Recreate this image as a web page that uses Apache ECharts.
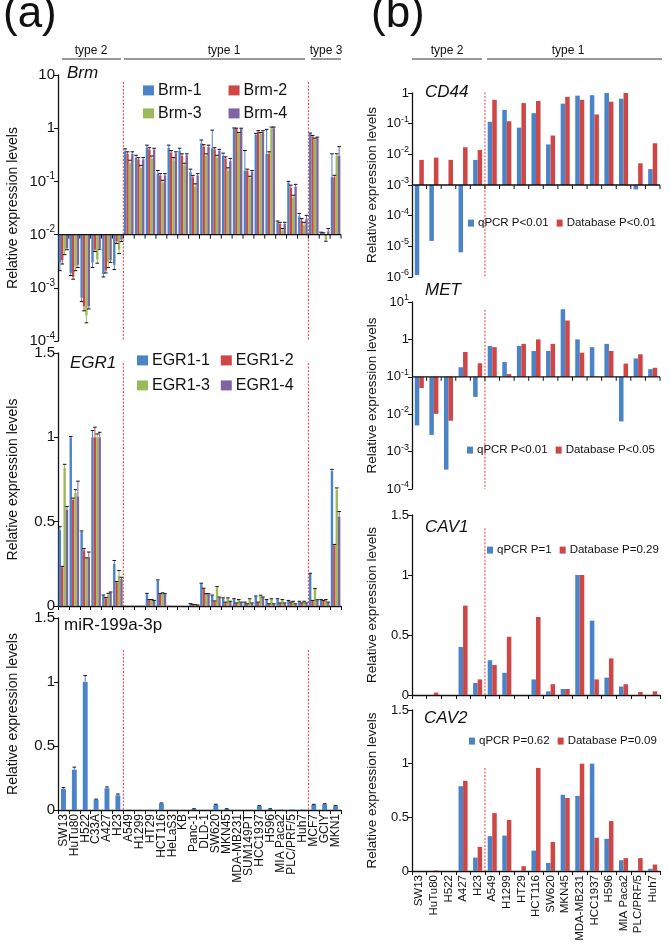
<!DOCTYPE html>
<html><head><meta charset="utf-8">
<script src="https://cdn.jsdelivr.net/npm/echarts@6/dist/echarts.min.js"></script>
<style>html,body{margin:0;padding:0;background:#fff}#c{width:670px;height:947px}</style>
</head><body><div id="c"></div>
<script>
// ---------------- DATA ----------------
const catsA = ['SW13','HuTu80','H522','C33A','A427','H23','A549','H1299','HT29','HCT116','HeLaS3','KB','Panc-1','DLD-1','SW620','MKN45','MDA-MB231','SUM149PT','HCC1937','H596','MIA Paca2','PLC/PRF/5','Huh7','MCF7','GCIY','MKN1'];
const catsB = ['SW13','HuTu80','H522','A427','H23','A549','H1299','HT29','HCT116','SW620','MKN45','MDA-MB231','HCC1937','H596','MIA Paca2','PLC/PRF/5','Huh7'];

const brm1 = [3.0e-3,1.9e-3,6.5e-4,3.0e-3,1.8e-3,2.7e-3, 0.37,0.28,0.43,0.14,0.43,0.38,0.15,0.52,0.42,0.30,0.98,0.16,0.75,0.33,0.017,0.095,0.022, 0.78,0.0108,0.12];
const brm2 = [3.3e-3,1.6e-3,4.5e-4,5.2e-3,2.1e-3,7.4e-3, 0.33,0.26,0.40,0.13,0.35,0.30,0.12,0.45,0.40,0.27,0.98,0.16,0.85,0.33,0.016,0.075,0.018, 0.70,0.0105,0.12];
const brm3 = [5.0e-3,2.5e-3,3.0e-4,3.4e-3,3.0e-3,5.2e-3, 0.22,0.18,0.27,0.095,0.25,0.20,0.08,0.30,0.28,0.16,0.80,0.115,0.78,1.0,0.012,0.05,0.015, 0.62,0.008,0.30];
const brm4 = [5.5e-3,2.7e-3,4.5e-4,5.6e-3,3.3e-3,8.0e-3, 0.33,0.26,0.40,0.13,0.34,0.31,0.13,0.45,0.38,0.24,0.98,0.15,0.85,1.0,0.016,0.08,0.02, 0.65,0.0115,0.30];
const brmErr1 = [0.9e-3,0.2e-3,1.0e-4,0.6e-3,0.2e-3,0.5e-3, 0.04,0.03,0.05,0.02,0.05,0.04,0.02,0.08,0.50,0.04,0.03,0.22,0.05,0.62,0.001,0.005,0.003, 0.03,0.0003,0.21];
const brmErr2 = [0.5e-3,0.15e-3,0.8e-4,0.4e-3,0.2e-3,0.6e-3, 0.03,0.02,0.03,0.01,0.03,0.03,0.01,0.04,0.03,0.02,0.02,0.01,0.05,0.03,0.001,0.01,0.002, 0.03,0.0003,0.01];
const brmErr3 = [0.8e-3,0.4e-3,0.8e-4,0.5e-3,0.6e-3,0.8e-3, 0.03,0.02,0.03,0.01,0.03,0.02,0.01,0.03,0.03,0.02,0.03,0.01,0.05,0.05,0.001,0.005,0.002, 0.03,0.0005,0.03];
const brmErr4 = [0.3e-3,0.3e-3,0.5e-4,0.3e-3,0.3e-3,0.6e-3, 0.03,0.02,0.02,0.01,0.02,0.02,0.01,0.03,0.02,0.03,0.02,0.01,0.05,0.05,0.001,0.008,0.003, 0.03,0.0015,0.15];

const egr1 = [0.45,1.0,0.44,1.0,0.06,0.25, 0.003,0.003,0.07,0.15,0.002,0.001,0.012,0.13,0.06,0.045,0.04,0.02,0.055,0.035,0.04,0.03,0.025, 0.19,0.035,0.80];
const egr2 = [0.23,0.63,0.33,1.0,0.045,0.14, 0.002,0.002,0.035,0.07,0.001,0.001,0.008,0.10,0.025,0.02,0.015,0.01,0.02,0.01,0.015,0.02,0.015, 0.03,0.03,0.36];
const egr3 = [0.82,0.67,0.28,1.0,0.065,0.18, 0.002,0.003,0.035,0.075,0.001,0.001,0.006,0.07,0.11,0.045,0.035,0.04,0.06,0.04,0.035,0.025,0.025, 0.10,0.035,0.69];
const egr4 = [0.57,0.65,0.29,1.0,0.08,0.16, 0.002,0.002,0.03,0.07,0.001,0.001,0.004,0.07,0.05,0.025,0.02,0.015,0.05,0.01,0.015,0.01,0.015, 0.035,0.02,0.53];
const egrErr1 = [0.02,0.005,0.005,0.04,0.005,0.02, 0,0,0.005,0.005,0,0,0.002,0.005,0.005,0.003,0.003,0.003,0.004,0.003,0.003,0.003,0.003, 0.004,0.003,0.01];
const egrErr2 = [0.005,0.01,0.01,0.06,0.005,0.005, 0,0,0.003,0.003,0,0,0.002,0.005,0.005,0.003,0.003,0.003,0.003,0.003,0.003,0.003,0.003, 0.003,0.003,0.005];
const egrErr3 = [0.02,0.02,0.005,0.02,0.01,0.03, 0,0,0.003,0.003,0,0,0.002,0.003,0.005,0.003,0.003,0.003,0.004,0.003,0.003,0.003,0.003, 0.003,0.003,0.01];
const egrErr4 = [0.02,0.09,0.03,0.03,0.003,0.01, 0,0,0.003,0.003,0,0,0.002,0.003,0.003,0.003,0.003,0.003,0.003,0.003,0.003,0.003,0.003, 0.002,0.003,0.03];

const mir = [0.165,0.315,1.0,0.08,0.17,0.115, 0.002,0.001,0.001,0.05,0.001,0.001,0.008,0.001,0.04,0.008,0.001,0.001,0.03,0.008,0.004,0.004,0.003, 0.04,0.045,0.03];
const mirErr = [0.01,0.02,0.05,0.005,0.01,0.01, 0,0,0,0.005,0,0,0.002,0,0.005,0.002,0,0,0.004,0.002,0,0,0, 0.004,0.004,0.004];

const cd44Q = [1.15e-6,1.5e-5,null,6.4e-6,6.6e-3,0.115,0.28,0.074,0.22,0.021,0.45,0.82,0.85,1.0,0.65,7.2e-4,3.3e-3];
const cd44D = [6.6e-3,7.8e-3,6.6e-3,0.017,0.0138,0.6,0.12,0.47,0.55,0.041,0.75,0.6,0.2,0.52,1.0,5.1e-3,0.023];
const metQ = [5e-3,2.8e-3,3.3e-4,0.18,0.029,0.67,0.25,0.67,0.49,0.49,6.4,1.0,0.62,0.76,6.4e-3,0.31,0.16];
const metD = [0.05,0.0102,6.7e-3,0.46,0.23,0.62,0.118,0.76,1.0,0.76,3.2,0.44,0.098,0.49,0.225,0.4,0.174];
const cav1Q = [0,0,0,0.40,0.10,0.29,0.185,0,0.13,0.03,0.05,1.0,0.62,0.145,0.07,0,0];
const cav1D = [0,0.02,0,0.745,0.13,0.25,0.485,0,0.65,0.09,0.05,1.0,0.13,0.305,0.09,0.025,0.03];
const cav2Q = [0,0,0,0.79,0.125,0.325,0.33,0,0.19,0.075,0.71,0.70,1.0,0.30,0.10,0,0.02];
const cav2D = [0,0.005,0,0.84,0.225,0.54,0.475,0.045,0.96,0.27,0.68,1.0,0.31,0.465,0.12,0.12,0.06];

const namesBrm = ['Brm-1','Brm-2','Brm-3','Brm-4'];
const namesEgr = ['EGR1-1','EGR1-2','EGR1-3','EGR1-4'];
const legCD44 = ['qPCR P<0.01','Database P<0.01'];
const legMET = ['qPCR P<0.01','Database P<0.05'];
const legCAV1 = ['qPCR P=1','Database P=0.29'];
const legCAV2 = ['qPCR P=0.62','Database P=0.09'];
const linTicks = [0, 0.5, 1, 1.5];

// ---------------- STYLE / LAYOUT ----------------
const FONT = '"Liberation Sans", Arial, sans-serif';
const COL = ['#4a83c6', '#d04644', '#9bbb59', '#8064a2'];
const INK = '#111';
const chart = echarts.init(document.getElementById('c'), null, {renderer: 'canvas'});

const grids = [
  {left: 58, top: 75, width: 283, height: 266},   // Brm
  {left: 58, top: 353, width: 283, height: 253},  // EGR1
  {left: 58, top: 618, width: 283, height: 192},  // miR
  {left: 412, top: 93, width: 248, height: 184},  // CD44
  {left: 412, top: 302, width: 248, height: 187}, // MET
  {left: 412, top: 515, width: 248, height: 180}, // CAV1
  {left: 412, top: 710, width: 248, height: 161}  // CAV2
];

function bandInfo(api, base) {
  const p0 = api.coord([0, base]), p1 = api.coord([1, base]);
  return p1[0] - p0[0];
}
function barSeries(name, gi, arr, base, k, n, fill, color) {
  return {
    type: 'custom', name: name, xAxisIndex: gi, yAxisIndex: gi, z: 2,
    itemStyle: {color: color},
    data: arr.map((v, i) => [i, v]),
    renderItem: function (params, api) {
      const i = api.value(0), v = api.value(1);
      if (v === null || isNaN(v) || v === 0) return;
      const cw = bandInfo(api, base);
      const pb = api.coord([i, base]), pv = api.coord([i, v]);
      const gw = cw * fill, bw = gw / n;
      const x = pb[0] - gw / 2 + k * bw;
      return {type: 'rect', shape: {x: x, y: Math.min(pb[1], pv[1]), width: bw, height: Math.abs(pv[1] - pb[1])},
        style: {fill: color}};
    }
  };
}
function errSeries(gi, arr, err, base, k, n, fill, color) {
  return {
    type: 'custom', name: 'err' + gi + '-' + k, xAxisIndex: gi, yAxisIndex: gi, z: 3, silent: true,
    data: arr.map((v, i) => [i, v, err[i]]),
    renderItem: function (params, api) {
      const i = api.value(0), v = api.value(1), e = api.value(2);
      if (!(e > 0) || isNaN(v)) return;
      const end = v >= base ? v + e : v - e;
      const cw = bandInfo(api, base);
      const pb = api.coord([i, base]);
      const gw = cw * fill, bw = gw / n;
      const xc = pb[0] - gw / 2 + k * bw + bw / 2;
      const pv = api.coord([i, v]), pe = api.coord([i, end]);
      return {type: 'group', children: [
        {type: 'line', shape: {x1: xc, y1: pv[1], x2: xc, y2: pe[1]}, style: {stroke: color, lineWidth: 1}},
        {type: 'line', shape: {x1: xc - 1.8, y1: pe[1], x2: xc + 1.8, y2: pe[1]}, style: {stroke: INK, lineWidth: 1}}
      ]};
    }
  };
}
function baselineSeries(gi, n, base) {
  return {
    type: 'custom', name: 'base' + gi, xAxisIndex: gi, yAxisIndex: gi, z: 5, silent: true,
    data: [[0, base]],
    renderItem: function (params, api) {
      const cw = bandInfo(api, base);
      const p0 = api.coord([0, base]);
      const left = p0[0] - cw / 2, y = p0[1];
      const ch = [{type: 'line', shape: {x1: left, y1: y, x2: left + n * cw, y2: y}, style: {stroke: INK, lineWidth: 1.3}}];
      for (let k = 1; k <= n; k++) {
        ch.push({type: 'line', shape: {x1: left + k * cw, y1: y, x2: left + k * cw, y2: y + 4}, style: {stroke: INK, lineWidth: 1}});
      }
      return {type: 'group', children: ch};
    }
  };
}
function dividerSeries(gi, bounds, topVal, botVal) {
  return {
    type: 'custom', name: 'div' + gi, xAxisIndex: gi, yAxisIndex: gi, z: 4, silent: true,
    data: bounds.map(b => [b, botVal]),
    renderItem: function (params, api) {
      const b = api.value(0);
      const cw = bandInfo(api, botVal);
      const pb = api.coord([b, botVal]), pt = api.coord([b, topVal]);
      const x = pb[0] - cw / 2;
      return {type: 'line', shape: {x1: x, y1: pt[1], x2: x, y2: pb[1]},
        style: {stroke: '#e23a40', lineWidth: 1, lineDash: [2, 1.5]}};
    }
  };
}

function logFmt(supOne) {
  return function (v) {
    const e = Math.round(Math.log10(v));
    if (e === 0) return '1';
    if (e === 1 && !supOne) return '10';
    return '10{s|' + e + '}';
  };
}
function yAxisLog(gi, min, max, supOne, fs, gap, nameFs) {
  return {
    type: 'log', gridIndex: gi, logBase: 10, min: min, max: max, interval: 1,
    axisLine: {show: true, lineStyle: {color: INK, width: 1.3}},
    axisTick: {show: true, length: 4, lineStyle: {color: INK}},
    minorTick: {show: false}, splitLine: {show: false},
    axisLabel: {formatter: logFmt(supOne), fontSize: fs, color: INK, fontFamily: FONT, margin: 3, lineHeight: fs + 5,
      rich: {s: {fontSize: Math.round(fs * 0.68), lineHeight: Math.round(fs * 0.68), verticalAlign: 'top', color: INK, fontFamily: FONT}}},
    name: 'Relative expression levels', nameLocation: 'middle', nameGap: gap,
    nameTextStyle: {fontSize: nameFs, color: INK, fontFamily: FONT}
  };
}
function yAxisLin(gi, fs, gap, nameFs) {
  return {
    type: 'value', gridIndex: gi, min: linTicks[0], max: linTicks[linTicks.length - 1], interval: 0.5,
    axisLine: {show: true, lineStyle: {color: INK, width: 1.3}},
    axisTick: {show: true, length: 4, lineStyle: {color: INK}},
    splitLine: {show: false},
    axisLabel: {fontSize: fs, color: INK, fontFamily: FONT, margin: 3},
    name: 'Relative expression levels', nameLocation: 'middle', nameGap: gap,
    nameTextStyle: {fontSize: nameFs, color: INK, fontFamily: FONT}
  };
}
function xAxisCat(gi, cats, mode, fs) {
  const a = {type: 'category', gridIndex: gi, data: cats,
    axisLine: {show: mode !== 'none', lineStyle: {color: INK, width: 1.3}},
    axisTick: {show: mode !== 'none', length: 4, lineStyle: {color: INK}},
    axisLabel: {show: mode === 'labels', interval: 0, rotate: 90, fontSize: fs, color: INK, fontFamily: FONT, margin: 4}};
  return a;
}

const series = [];
const brmArr = [brm1, brm2, brm3, brm4], brmErr = [brmErr1, brmErr2, brmErr3, brmErr4];
const egrArr = [egr1, egr2, egr3, egr4], egrErr = [egrErr1, egrErr2, egrErr3, egrErr4];
for (let k = 0; k < 4; k++) series.push(barSeries(namesBrm[k], 0, brmArr[k], 0.01, k, 4, 0.88, COL[k]));
for (let k = 0; k < 4; k++) series.push(errSeries(0, brmArr[k], brmErr[k], 0.01, k, 4, 0.88, COL[k]));
series.push(baselineSeries(0, catsA.length, 0.01));
series.push(dividerSeries(0, [6, 23], 7.4, 1e-4));

for (let k = 0; k < 4; k++) series.push(barSeries(namesEgr[k], 1, egrArr[k], 0, k, 4, 0.88, COL[k]));
for (let k = 0; k < 4; k++) series.push(errSeries(1, egrArr[k], egrErr[k], 0, k, 4, 0.88, COL[k]));
series.push(dividerSeries(1, [6, 23], 1.44, 0));

series.push(barSeries('miR-199a-3p', 2, mir, 0, 0, 1, 0.45, COL[0]));
series.push(errSeries(2, mir, mirErr, 0, 0, 1, 0.45, COL[0]));
series.push(dividerSeries(2, [6, 23], 1.25, 0));

const bPanels = [
  {gi: 3, q: cd44Q, d: cd44D, leg: legCD44, base: 0.001, top: 1.05, bot: 1e-6},
  {gi: 4, q: metQ, d: metD, leg: legMET, base: 0.1, top: 6.2, bot: 1e-4},
  {gi: 5, q: cav1Q, d: cav1D, leg: legCAV1, base: 0, top: 1.39, bot: 0},
  {gi: 6, q: cav2Q, d: cav2D, leg: legCAV2, base: 0, top: 0.96, bot: 0}
];
bPanels.forEach(p => {
  series.push(barSeries(p.leg[0], p.gi, p.q, p.base, 0, 2, 0.62, COL[0]));
  series.push(barSeries(p.leg[1], p.gi, p.d, p.base, 1, 2, 0.62, COL[1]));
  if (p.base > 0) series.push(baselineSeries(p.gi, catsB.length, p.base));
  series.push(dividerSeries(p.gi, [5], p.top, p.bot));
});

function legend(names, left, cy, fs, iw, ih, gap) {
  return {data: names, left: left, top: cy - Math.max(ih, fs * 1.2) / 2 - 1, orient: 'horizontal',
    icon: 'rect', itemWidth: iw, itemHeight: ih, itemGap: gap, padding: 0, selectedMode: false,
    textStyle: {fontSize: fs, color: INK, fontFamily: FONT, padding: [0, 0, 0, -1]}};
}

const typeHeaders = [
  {t: 'type 2', cx: 91, x1: 62, x2: 121},
  {t: 'type 1', cx: 224, x1: 124, x2: 305},
  {t: 'type 3', cx: 326, x1: 311, x2: 341},
  {t: 'type 2', cx: 447, x1: 412, x2: 482},
  {t: 'type 1', cx: 568, x1: 487, x2: 662}
];
const graphics = [
  {type: 'text', left: 3, top: -7, style: {text: '(a)', fontSize: 44, fontFamily: FONT, fill: INK}},
  {type: 'text', left: 371, top: -7, style: {text: '(b)', fontSize: 44, fontFamily: FONT, fill: INK}}
];
typeHeaders.forEach(h => {
  graphics.push({type: 'text', x: h.cx, y: 51, style: {text: h.t, fontSize: 12, fontFamily: FONT, fill: INK, align: 'center', verticalAlign: 'middle'}});
  graphics.push({type: 'line', shape: {x1: h.x1, y1: 59, x2: h.x2, y2: 59}, style: {stroke: '#333', lineWidth: 1}});
});
const titles = [
  {t: 'Brm', x: 67, y: 73, it: true},
  {t: 'EGR1', x: 70, y: 363, it: true},
  {t: 'miR-199a-3p', x: 64, y: 625, it: false},
  {t: 'CD44', x: 425, y: 92, it: true},
  {t: 'MET', x: 425, y: 290, it: true},
  {t: 'CAV1', x: 425, y: 527, it: true},
  {t: 'CAV2', x: 424, y: 718, it: true}
];
titles.forEach(t => graphics.push({type: 'text', x: t.x, y: t.y, z: 10,
  style: {text: t.t, fontSize: 17, fontStyle: t.it ? 'italic' : 'normal', fontFamily: FONT, fill: INK, verticalAlign: 'middle'}}));

const option = {
  animation: false,
  backgroundColor: '#fff',
  textStyle: {fontFamily: FONT},
  grid: grids,
  xAxis: [
    xAxisCat(0, catsA, 'none', 12),
    xAxisCat(1, catsA, 'line', 12),
    xAxisCat(2, catsA, 'labels', 12),
    xAxisCat(3, catsB, 'none', 11.5),
    xAxisCat(4, catsB, 'none', 11.5),
    xAxisCat(5, catsB, 'line', 11.5),
    xAxisCat(6, catsB, 'labels', 11.5)
  ],
  yAxis: [
    yAxisLog(0, 1e-4, 10, false, 15, 38, 14),
    yAxisLin(1, 15, 38, 14),
    yAxisLin(2, 15, 38, 14),
    yAxisLog(3, 1e-6, 1, false, 13, 33, 13.5),
    yAxisLog(4, 1e-4, 10, true, 13, 33, 13.5),
    yAxisLin(5, 13, 33, 13.5),
    yAxisLin(6, 13, 33, 13.5)
  ],
  legend: [
    legend(namesBrm.slice(0, 2), 143, 93, 16, 11, 10, 27),
    legend(namesBrm.slice(2, 4), 143, 116, 16, 11, 10, 27),
    legend(namesEgr.slice(0, 2), 137, 363, 16, 11, 10, 11),
    legend(namesEgr.slice(2, 4), 137, 388, 16, 11, 10, 11),
    legend(legCD44, 468, 225, 11.5, 6, 7, 8),
    legend(legMET, 467, 452, 11.5, 6, 7, 8),
    legend(legCAV1, 487, 552, 11.5, 6, 7, 8),
    legend(legCAV2, 469, 743, 11.5, 6, 7, 8)
  ],
  graphic: graphics,
  series: series
};
chart.setOption(option);
</script>
</body></html>
